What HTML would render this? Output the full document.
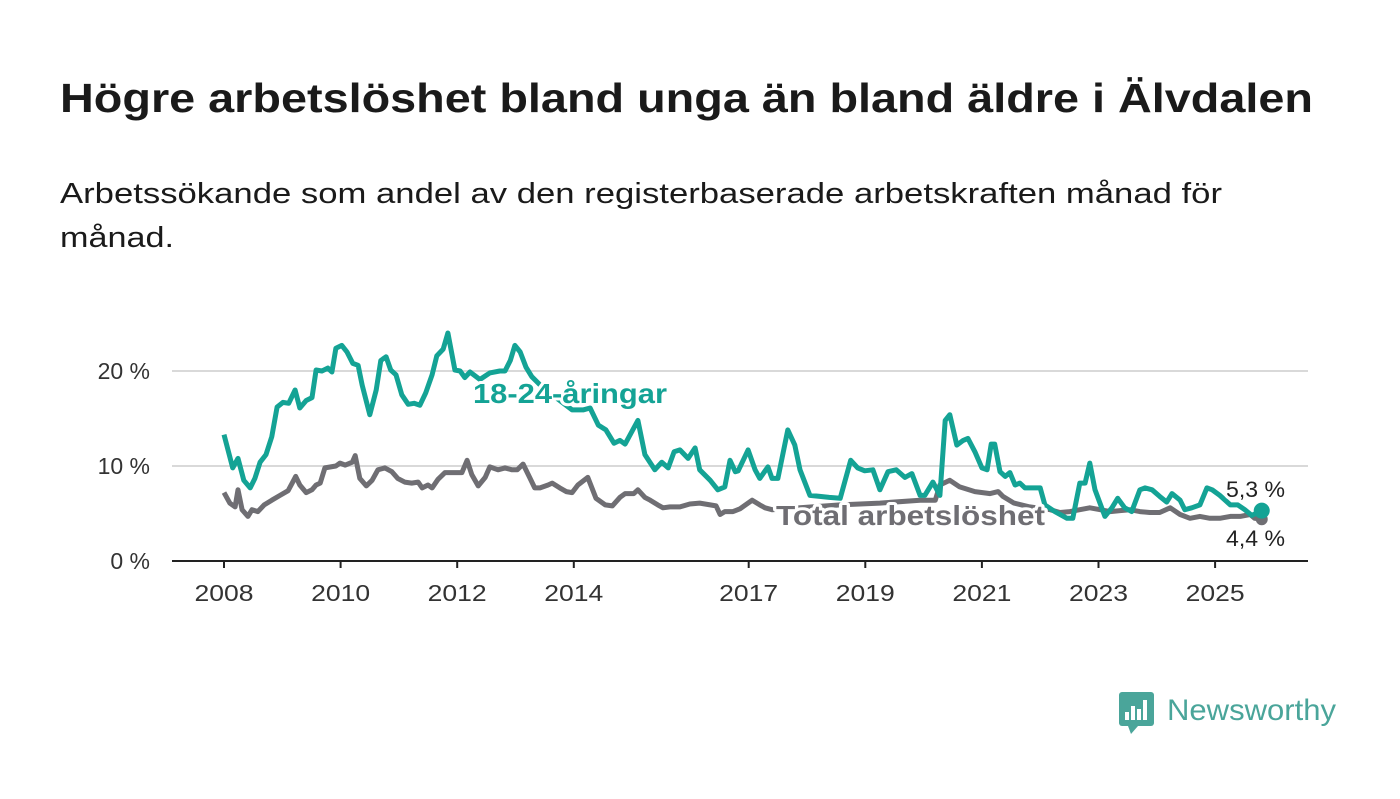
<!DOCTYPE html>
<html><head><meta charset="utf-8"><style>
body{margin:0;background:#fff;width:1400px;height:794px;overflow:hidden;font-family:"Liberation Sans",sans-serif;}
</style></head><body>
<svg width="1400" height="794" xmlns="http://www.w3.org/2000/svg">
<text x="60" y="112" font-size="41" font-weight="bold" fill="#1a1a1a" textLength="1253" lengthAdjust="spacingAndGlyphs">Högre arbetslöshet bland unga än bland äldre i Älvdalen</text>
<text x="60" y="203" font-size="29" fill="#1a1a1a" textLength="1162" lengthAdjust="spacingAndGlyphs">Arbetssökande som andel av den registerbaserade arbetskraften månad för</text>
<text x="60" y="247" font-size="29" fill="#1a1a1a" textLength="114" lengthAdjust="spacingAndGlyphs">månad.</text>
<g id="grid"></g><g id="xaxis"></g><g id="lines"></g><g id="labels"></g>
<g>
<rect x="1119" y="692" width="35" height="34" rx="3" fill="#4aa59a"/>
<polygon points="1128,726 1138,726 1131,734" fill="#4aa59a"/>
<rect x="1125" y="712" width="4" height="8" fill="#fff"/><rect x="1131" y="706" width="4" height="14" fill="#fff"/><rect x="1137" y="709" width="4" height="11" fill="#fff"/><rect x="1143" y="700" width="4" height="20" fill="#fff"/>
<text x="1167" y="720" font-size="30" fill="#4aa59a" textLength="169" lengthAdjust="spacingAndGlyphs">Newsworthy</text>
</g>
</svg>
<script>
const ns="http://www.w3.org/2000/svg";
const yTicks=[0,10,20];
const yTickLabels=["0 %","10 %","20 %"];
const xTicks=[2008,2010,2012,2014,2017,2019,2021,2023,2025];
const youthT=[0.00,0.15,0.24,0.34,0.45,0.53,0.62,0.72,0.82,0.91,1.01,1.11,1.22,1.30,1.41,1.51,1.58,1.68,1.78,1.85,1.92,2.02,2.11,2.21,2.30,2.37,2.50,2.61,2.69,2.78,2.86,2.95,3.05,3.16,3.26,3.36,3.46,3.57,3.65,3.76,3.84,3.96,4.05,4.13,4.22,4.39,4.56,4.73,4.82,4.91,4.99,5.08,5.18,5.28,5.51,5.76,5.97,6.16,6.28,6.42,6.55,6.69,6.79,6.88,7.10,7.22,7.39,7.51,7.62,7.72,7.82,7.96,8.08,8.16,8.34,8.47,8.59,8.68,8.77,8.82,8.99,9.11,9.19,9.33,9.40,9.50,9.67,9.79,9.88,10.05,10.22,10.38,10.57,10.75,10.87,10.99,11.13,11.25,11.39,11.53,11.68,11.80,11.94,12.02,12.16,12.28,12.37,12.45,12.57,12.68,12.76,12.88,13.00,13.09,13.16,13.22,13.31,13.40,13.48,13.57,13.65,13.74,13.91,14.00,14.08,14.25,14.46,14.56,14.68,14.77,14.85,14.94,15.11,15.23,15.33,15.45,15.57,15.71,15.80,15.92,16.05,16.17,16.26,16.40,16.48,16.60,16.74,16.86,16.95,17.08,17.26,17.39,17.51,17.63,17.80];
const youthV=[13.3,9.8,10.8,8.5,7.7,8.7,10.4,11.2,13.1,16.2,16.7,16.6,18.0,16.1,16.9,17.2,20.1,20.0,20.3,19.9,22.4,22.7,22.0,20.8,20.6,18.5,15.4,18.0,21.1,21.5,20.1,19.6,17.5,16.5,16.6,16.4,17.7,19.6,21.6,22.3,24.0,20.1,20.0,19.3,19.9,19.1,19.8,20.0,20.0,21.1,22.7,22.0,20.4,19.4,18.0,16.9,15.9,15.9,16.1,14.3,13.8,12.4,12.7,12.3,14.8,11.2,9.6,10.4,9.8,11.5,11.7,10.8,11.9,9.6,8.5,7.5,7.8,10.6,9.4,9.5,11.7,9.6,8.7,9.9,8.7,8.7,13.8,12.2,9.6,6.9,6.8,6.7,6.6,10.6,9.8,9.5,9.6,7.5,9.4,9.6,8.8,9.2,6.9,6.9,8.3,6.9,14.8,15.4,12.2,12.7,12.9,11.5,9.8,9.6,12.3,12.3,9.4,8.9,9.3,8.0,8.2,7.7,7.7,7.7,5.9,5.2,4.5,4.5,8.2,8.2,10.3,7.5,4.7,5.6,6.6,5.6,5.2,7.5,7.7,7.5,6.8,6.2,7.1,6.4,5.4,5.6,5.9,7.7,7.5,6.9,5.9,5.9,5.4,4.8,5.3];
const totalT=[0.00,0.10,0.19,0.24,0.31,0.41,0.48,0.58,0.69,0.82,0.96,1.10,1.17,1.23,1.30,1.41,1.51,1.58,1.65,1.73,1.92,1.99,2.08,2.20,2.25,2.33,2.44,2.54,2.64,2.76,2.88,2.98,3.10,3.22,3.33,3.40,3.50,3.57,3.67,3.79,4.00,4.08,4.17,4.25,4.36,4.48,4.56,4.70,4.82,4.94,5.03,5.13,5.25,5.33,5.42,5.56,5.63,5.76,5.87,5.97,6.07,6.24,6.38,6.54,6.66,6.79,6.88,7.03,7.10,7.22,7.31,7.44,7.53,7.65,7.82,7.99,8.16,8.34,8.44,8.51,8.59,8.73,8.85,8.99,9.06,9.19,9.28,9.40,9.88,10.57,11.25,11.94,12.20,12.28,12.45,12.62,12.88,13.14,13.28,13.36,13.55,13.82,14.17,14.34,14.51,14.68,14.85,15.03,15.20,15.37,15.54,15.71,15.88,16.05,16.23,16.40,16.57,16.74,16.91,17.08,17.26,17.43,17.60,17.68,17.80];
const totalV=[7.2,6.1,5.7,7.5,5.4,4.7,5.4,5.2,5.9,6.4,6.9,7.4,8.2,8.9,8.0,7.2,7.5,8.0,8.2,9.8,10.0,10.3,10.1,10.4,11.1,8.7,7.9,8.5,9.6,9.8,9.4,8.7,8.3,8.2,8.3,7.7,8.0,7.7,8.6,9.3,9.3,9.3,10.6,9.1,7.9,8.8,9.9,9.6,9.8,9.6,9.6,10.2,8.7,7.7,7.7,8.0,8.2,7.7,7.3,7.2,8.0,8.8,6.6,5.9,5.8,6.7,7.1,7.1,7.5,6.7,6.4,5.9,5.6,5.7,5.7,6.0,6.1,5.9,5.8,4.9,5.2,5.2,5.5,6.1,6.4,5.9,5.6,5.4,5.6,5.9,6.1,6.4,6.4,8.0,8.5,7.8,7.3,7.1,7.3,6.8,6.1,5.7,5.4,5.1,5.2,5.4,5.6,5.4,5.2,5.3,5.4,5.2,5.1,5.1,5.6,4.9,4.5,4.7,4.5,4.5,4.7,4.7,4.9,4.5,4.4];
const X=t=>224+t*58.3, Xy=y=>X(y-2008), Y=v=>561-v*9.5;
function mk(tag,attrs,parent){const e=document.createElementNS(ns,tag);for(const k in attrs)e.setAttribute(k,attrs[k]);document.getElementById(parent).appendChild(e);return e;}
yTicks.forEach((v,i)=>{
 if(v>0){const g=mk('line',{x1:172,x2:1308,y1:Y(v),y2:Y(v),stroke:'#d9d9d9','stroke-width':2},'grid');
 
 }
 const t=mk('text',{x:150,y:Y(v)+8,'font-size':23,fill:'#333','text-anchor':'end'},'grid');t.textContent=yTickLabels[i];
 
 
});
const ax=mk('line',{x1:172,x2:1308,y1:561,y2:561,stroke:'#222','stroke-width':2},'xaxis');


xTicks.forEach(yr=>{
 mk('line',{x1:Xy(yr),x2:Xy(yr),y1:561,y2:568,stroke:'#222','stroke-width':2},'xaxis');
 const t=mk('text',{x:Xy(yr),y:601,'font-size':23,fill:'#333','text-anchor':'middle',textLength:59,lengthAdjust:'spacingAndGlyphs'},'xaxis');t.textContent=yr;
 
 
});
function path(T,V){return T.map((t,i)=>(i?'L':'M')+X(t).toFixed(1)+','+Y(V[i]).toFixed(1)).join('');}
const pt=mk('path',{d:path(totalT,totalV),fill:'none',stroke:'#6f6e73','stroke-width':5,'stroke-linejoin':'round'},'lines');


const py=mk('path',{d:path(youthT,youthV),fill:'none',stroke:'#14a395','stroke-width':5,'stroke-linejoin':'round'},'lines');


const lt=totalT.length-1, ly=youthT.length-1;
const d1=mk('circle',{cx:X(totalT[lt]),cy:Y(totalV[lt]),r:6,fill:'#6f6e73'},'lines');


const d2=mk('circle',{cx:X(youthT[ly]),cy:Y(youthV[ly]),r:8,fill:'#14a395'},'lines');


function lab(txt,x,y,col,size,bold,name,len){const a={x:x,y:y,'font-size':size,'font-weight':bold?'bold':'normal',fill:col,stroke:'#fff','stroke-width':6,'paint-order':'stroke','stroke-linejoin':'round'};if(len){a.textLength=len;a.lengthAdjust='spacingAndGlyphs';}const t=mk('text',a,'labels');t.textContent=txt;
 
 }
lab('18-24-åringar',473,403,'#14a395',28,true,'youth-series-label',194);
lab('Total arbetslöshet',776,525,'#6f6e73',28,true,'total-series-label',269);
lab('5,3 %',1226,497,'#222',22,false,'youth-end-value',59);
lab('4,4 %',1226,546,'#222',22,false,'total-end-value',59);
</script>
</body></html>
